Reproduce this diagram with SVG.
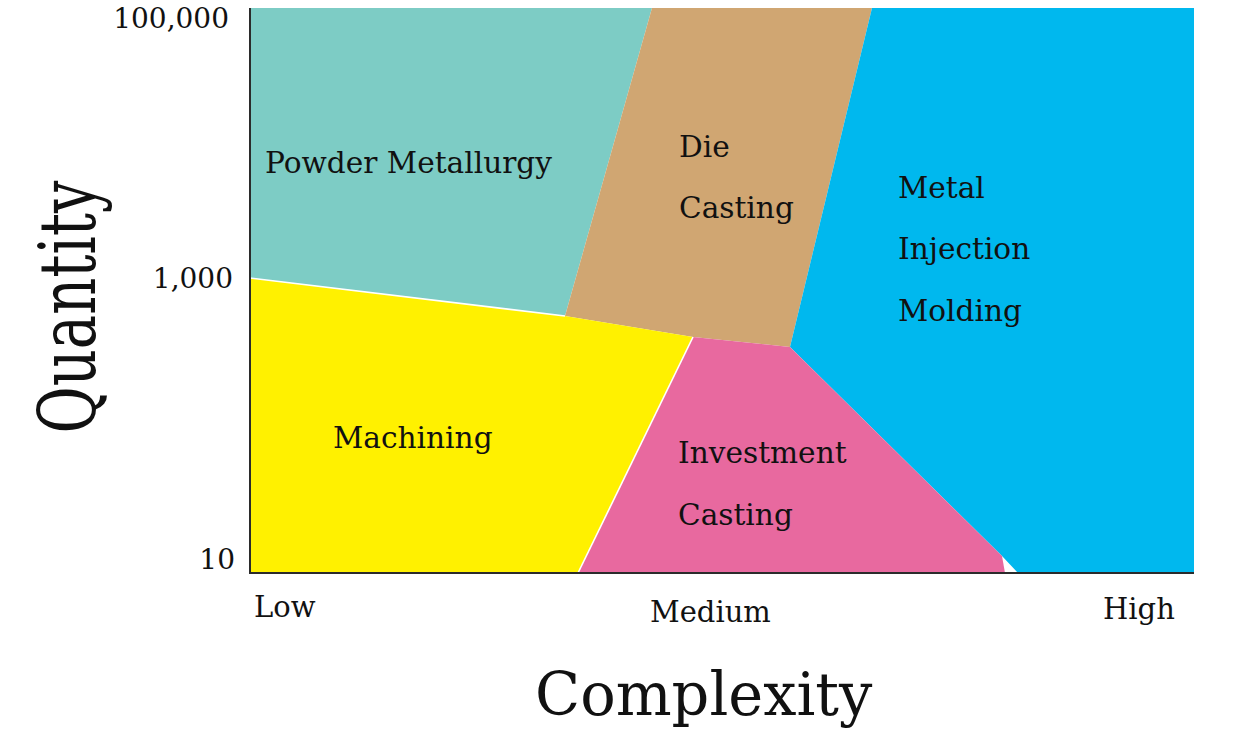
<svg xmlns="http://www.w3.org/2000/svg" width="1260" height="745" viewBox="0 0 1260 745">
  <style>
    .lbl { font-family: "DejaVu Serif", "Liberation Serif", serif; fill: #111; }
    .region { font-size: 29.6px; }
    .tick { font-size: 28px; }
    .axis { font-size: 29px; }
    .title { font-size: 59px; }
    .sep { stroke: #fff; stroke-width: 1.6; fill: none; }
    .ax { stroke: #2b2b2b; stroke-width: 2; fill: none; }
  </style>
  <rect width="1260" height="745" fill="#fff"/>
  <g id="powder-metallurgy">
    <polygon points="250,8 652,8 565,316 250,278" fill="#7DCCC5"/>
    <text class="lbl region" x="265" y="173">Powder Metallurgy</text>
  </g>
  <g id="die-casting">
    <polygon points="652,8 872,8 790,347 693,337 565,316" fill="#D0A672"/>
    <text class="lbl region" x="679" y="157">Die</text>
    <text class="lbl region" x="679" y="218">Casting</text>
  </g>
  <g id="metal-injection-molding">
    <polygon points="872,8 1194,8 1194,573 1018,573 1002,556 790,347" fill="#00B8EE"/>
    <text class="lbl region" x="898" y="198">Metal</text>
    <text class="lbl region" x="898" y="259">Injection</text>
    <text class="lbl region" x="898" y="321">Molding</text>
  </g>
  <g id="machining">
    <polygon points="250,278 565,316 693,337 578,573 250,573" fill="#FFF100"/>
    <text class="lbl region" x="333" y="448">Machining</text>
  </g>
  <g id="investment-casting">
    <polygon points="693,337 790,347 1002,556 1005,573 578,573" fill="#E8699F"/>
    <text class="lbl region" x="678" y="463">Investment</text>
    <text class="lbl region" x="678" y="525">Casting</text>
  </g>
  <g id="connectors">
    <polyline class="sep" points="250,278 565,316"/>
    <polyline class="sep" points="693,337 578,573"/>
    <polyline class="ax" points="250,8 250,573 1194,573"/>
  </g>
  <g id="y-axis">
    <text class="lbl tick" x="229" y="28" text-anchor="end">100,000</text>
    <text class="lbl tick" x="233" y="288" text-anchor="end">1,000</text>
    <text class="lbl tick" x="235" y="569" text-anchor="end">10</text>
    <text class="lbl" font-size="78" transform="translate(95,307) rotate(-90)" text-anchor="middle" textLength="253" lengthAdjust="spacingAndGlyphs">Quantity</text>
  </g>
  <g id="x-axis">
    <text class="lbl axis" x="254" y="617">Low</text>
    <text class="lbl axis" x="650" y="622">Medium</text>
    <text class="lbl axis" x="1103" y="619">High</text>
    <text class="lbl title" x="535" y="715">Complexity</text>
  </g>
</svg>
